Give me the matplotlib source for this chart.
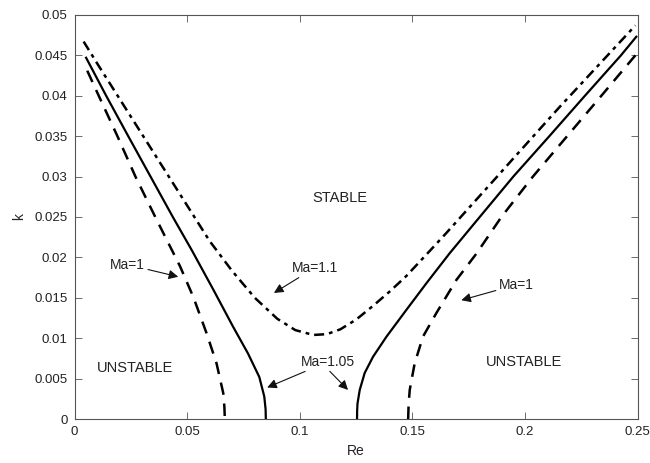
import numpy as np
import matplotlib.pyplot as plt

plt.rcParams['font.family'] = ['Liberation Sans', 'DejaVu Sans']

# neutral stability curves k(Re) for three Marangoni numbers
re_ma1_left = [0.0056, 0.0107, 0.0190, 0.0270, 0.0358, 0.0468, 0.0527, 0.0586, 0.0630, 0.0660, 0.0665, 0.0667]
k_ma1_left = [0.0431, 0.0400, 0.0350, 0.0300, 0.0250, 0.0189, 0.0151, 0.0106, 0.0069, 0.0032, 0.0015, 0.0]
re_ma1_right = [0.1481, 0.1483, 0.1488, 0.1510, 0.1547, 0.1606, 0.1695, 0.1785, 0.1895, 0.2035, 0.2187,
                0.2339, 0.2490]
k_ma1_right = [0.0, 0.0018, 0.0036, 0.0069, 0.0102, 0.0131, 0.0172, 0.0205, 0.0250, 0.0300, 0.0350,
               0.0400, 0.0450]

re_ma105_left = [0.0051, 0.0140, 0.0238, 0.0337, 0.0436, 0.0520, 0.0616, 0.0704, 0.0770, 0.0820, 0.0842,
                 0.0848, 0.0849]
k_ma105_left = [0.0447, 0.0400, 0.0350, 0.0300, 0.0250, 0.0209, 0.0160, 0.0114, 0.0081, 0.0052, 0.0028,
                0.0012, 0.0]
re_ma105_right = [0.1254, 0.12545, 0.1256, 0.1266, 0.1288, 0.1325, 0.1385, 0.1473, 0.1562, 0.1665, 0.1775,
                  0.1948, 0.2108, 0.2266, 0.2426, 0.2494]
k_ma105_right = [0.0, 0.0010, 0.0019, 0.0036, 0.0057, 0.0077, 0.0102, 0.0135, 0.0168, 0.0205, 0.0242,
                 0.0300, 0.0350, 0.0400, 0.0450, 0.0473]

re_ma11 = [0.004, 0.010, 0.020, 0.030, 0.040, 0.050, 0.060, 0.070, 0.080, 0.090, 0.098, 0.106, 0.112,
           0.118, 0.125, 0.1325, 0.140, 0.1473, 0.1577, 0.165, 0.175, 0.1873, 0.195, 0.205, 0.215, 0.225,
           0.235, 0.249]
k_ma11 = [0.0467, 0.0440, 0.0396, 0.0352, 0.0308, 0.0264, 0.0220, 0.0183, 0.0150, 0.0124, 0.0110, 0.0104,
          0.0105, 0.0111, 0.0123, 0.0140, 0.0158, 0.0177, 0.0208, 0.0230, 0.0261, 0.0299, 0.0323, 0.0354,
          0.0385, 0.0415, 0.0445, 0.0487]

fig = plt.figure(figsize=(6.5, 4.63), dpi=100)
ax = fig.add_axes([0.1148, 0.095, 0.8662, 0.8728])

ax.plot(re_ma1_left, k_ma1_left, color='k', lw=1.8, linestyle=(0, (5, 3.5)))
ax.plot(re_ma1_right, k_ma1_right, color='k', lw=1.8, linestyle=(0, (5, 3.5)))
ax.plot(re_ma105_left, k_ma105_left, color='k', lw=1.6)
ax.plot(re_ma105_right, k_ma105_right, color='k', lw=1.6)
ax.plot(re_ma11, k_ma11, color='k', lw=1.8, linestyle=(0, (4, 2, 1.5, 2)))

ax.set_xlim(0, 0.25)
ax.set_ylim(0, 0.05)
ax.set_xticks([0, 0.05, 0.1, 0.15, 0.2, 0.25])
ax.set_xticklabels(['0', '0.05', '0.1', '0.15', '0.2', '0.25'])
ax.set_yticks(np.arange(0, 0.0501, 0.005))
ax.set_yticklabels(['0', '0.005', '0.01', '0.015', '0.02', '0.025', '0.03', '0.035', '0.04', '0.045', '0.05'])
ax.tick_params(direction='in', top=True, right=True, length=5, width=0.6, color='#555555',
               labelsize=9.5, labelcolor='#222222', pad=5)
for s in ax.spines.values():
    s.set_color('#555555')
    s.set_linewidth(0.8)
ax.set_xlabel('Re', fontsize=10, color='#222222', labelpad=4)
ax.set_ylabel('k', fontsize=10, color='#222222', labelpad=6)

txt = dict(fontsize=10.5, color='#222222', ha='center', va='center')
ax.text(0.1177, 0.0273, 'STABLE', **txt)
ax.text(0.0268, 0.0063, 'UNSTABLE', **txt)
ax.text(0.1997, 0.0071, 'UNSTABLE', **txt)

arr = dict(arrowstyle='-|>', color='#111111', lw=0.8, mutation_scale=14, shrinkA=0, shrinkB=0)
ax.annotate('Ma=1', xy=(0.0460, 0.0176), xytext=(0.0236, 0.0191), fontsize=10, color='#222222',
            ha='center', va='center', arrowprops=arr)
ax.annotate('Ma=1.1', xy=(0.0885, 0.0156), xytext=(0.1066, 0.0187), fontsize=10, color='#222222',
            ha='center', va='center', arrowprops=arr)
ax.annotate('Ma=1.05', xy=(0.0855, 0.0039), xytext=(0.1126, 0.0071), fontsize=10, color='#222222',
            ha='center', va='center', arrowprops=arr)
ax.annotate('', xy=(0.1214, 0.0036), xytext=(0.1133, 0.0059), arrowprops=arr)
ax.annotate('Ma=1', xy=(0.1717, 0.0147), xytext=(0.1960, 0.0166), fontsize=10, color='#222222',
            ha='center', va='center', arrowprops=arr)

fig.savefig('out.png', dpi=100)
